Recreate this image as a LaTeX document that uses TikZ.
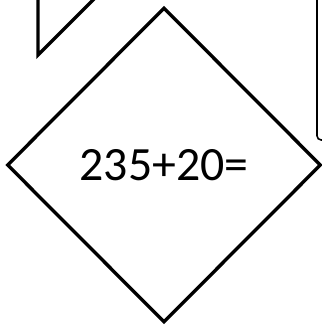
\documentclass[tikz,border=0pt]{standalone}
\usepackage{fontspec}
\setmainfont{Carlito}
\usetikzlibrary{shapes.geometric}

\begin{document}
\begin{tikzpicture}[
  x=0.025cm,
  y=-0.025cm,
  edge/.style={line width=2.4pt},
  thinedge/.style={line width=1.1pt},
  sumbox/.style={diamond, draw, line width=2.4pt, inner sep=0pt,
    minimum width=314*0.025cm, minimum height=315*0.025cm,
    font=\fontsize{34}{40}\selectfont}
]

% White background
\fill[white] (0,0) rectangle (322,325);
\useasboundingbox (0,0) rectangle (322,325);
\clip (0,0) rectangle (322,325);

% Cut-off shape, top left
\draw[edge, line join=miter] (38,-10) -- (38,55) -- (103,-10);

% Cut-off box, right
\draw[thinedge, rounded corners=3] (317,-10) -- (317,140) -- (335,140);

% Diamond
\node[sumbox] (sum) at (164,165) {235+20=};

\end{tikzpicture}
\end{document}
